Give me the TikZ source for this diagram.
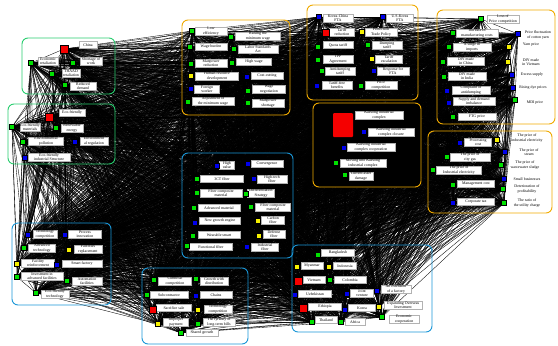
\documentclass[tikz,border=0pt]{standalone}
\usepackage{fontspec}
\setmainfont{Liberation Serif}
\pgfdeclarelayer{bg}
\pgfsetlayers{bg,main}
\definecolor{gsq}{RGB}{0,225,0}
\definecolor{bsq}{RGB}{0,0,235}
\definecolor{rsq}{RGB}{245,0,0}
\definecolor{ysq}{RGB}{245,240,0}
\definecolor{gbox}{RGB}{40,205,110}
\definecolor{obox}{RGB}{240,170,0}
\definecolor{bbox}{RGB}{25,150,215}
\tikzset{
  sq/.style={inner sep=0pt, minimum size=5pt, draw=black, line width=0.1pt},
  lab/.style={fill=white, draw=black!30, line width=0.2pt, inner sep=0.4pt, align=center, minimum height=7pt, font=\fontsize{3.9}{4.3}\selectfont},
  plab/.style={lab, draw=none, fill=none},
  gframe/.style={draw=gbox, line width=0.9pt, rounded corners=6pt},
  oframe/.style={draw=obox, line width=0.9pt, rounded corners=6pt},
  bframe/.style={draw=bbox, line width=0.9pt, rounded corners=6pt},
  edge/.style={draw=black, line width=0.35pt}
}
\newcommand{\ND}[6]{\node[lab,minimum width=#5pt] (#1l) at (#4) {#6}; \node[sq,fill=#2] (#1) at (#3) {};}
\newcommand{\NP}[5]{\node[plab] (#1l) at (#4) {#5}; \node[sq,fill=#2] (#1) at (#3) {};}
\def\allnodes{a1,a2,a3,a4,a5,b1,b2,b3,b4,b5,b6,c1,c2,c3,c4,c5,c6,c7,c8,c9,d1,d2,d3,d4,d5,d6,d7,d8,d9,d10,d11,d12,e1,e2,e3,e4,e5,e6,e7,e8,e9,e10,e11,e12,f1,f2,f3,f4,f5,g1,g2,g3,g4,g5,g6,g7,g8,g9,g10,g11,g12,g13,g14,h1,h2,h3,h4,h5,h6,h7,h8,h9,h10,h11,i1,i2,i3,i4,i5,i6,i7,i8,i9,i10,i11,i12,i13,i14,j1,j2,j3,j4,j5,j6,j7,j8,j9,k1,k2,k3,k4,k5,k6,k7,k8,k9,k10,k11,k12,k13,k14}
\begin{document}
\begin{tikzpicture}[x=1pt,y=-1pt]
\useasboundingbox (0,0) rectangle (558,346);
% group 1
\ND{a1}{rsq,minimum size=8pt}{64,49}{88,45}{18}{China}
\ND{a2}{gsq}{31,63}{48,61}{20}{Economic\\retaliation}
\ND{a3}{gsq}{73,63}{91,61}{22}{Shortage of\\work}
\ND{a4}{gsq}{52,74}{71,73}{18}{THAAD\\retaliation}
\ND{a5}{gsq}{65,85}{83,86}{26}{Reduced\\demand}
% group 2
\ND{b1}{rsq,minimum size=7.5pt}{49,117}{72,113}{26}{Eco-friendly}
\ND{b2}{gsq}{12,127}{30,127}{20}{Eco-friendly\\materials}
\ND{b3}{gsq}{56,128}{72,128}{22}{Renewable\\energy}
\ND{b4}{gsq}{23,142}{46,141}{35}{Environmental\\pollution}
\ND{b5}{bsq}{75,142}{94,141}{28}{Environment\\al regulation}
\ND{b6}{bsq}{25,158}{49,157}{42}{Eco-friendly\\industrial Structure}
% group 3
\ND{c1}{bsq}{28,235}{45,234}{24}{Technology\\competition}
\ND{c2}{bsq}{65,235}{85,234}{33}{Process\\innovation}
\ND{c3}{gsq}{24,248}{42,248}{27}{Advanced\\technology}
\ND{c4}{ysq}{69,250}{88,249}{28}{Facilities\\replacement}
\ND{c5}{ysq}{17,264}{38,263}{33}{Facility\\reinforcement}
\ND{c6}{bsq}{57,265}{82,264}{40}{Smart factory}
\ND{c7}{gsq}{17,277}{42,276}{42}{Investment in\\advanced facilities}
\ND{c8}{gsq}{67,281}{87,281}{30}{Automation\\facilities}
\ND{c9}{gsq}{36,293}{55,294}{28}{Eco-friendly\\technology}
% group 4
\ND{d1}{gsq}{192,31}{211,31}{32}{Low\\efficiency}
\ND{d2}{gsq}{231,37}{258,36}{45}{Raising the\\minimum wage}
\ND{d3}{gsq}{190,47}{211,47}{32}{Wage burden}
\ND{d4}{gsq}{234,49}{258,49}{40}{Labor Standards\\Act}
\ND{d5}{gsq}{191,64}{211,63}{32}{Manpower\\reduction}
\ND{d6}{gsq}{232,63}{254,62}{35}{High wage}
\ND{d7}{ysq}{191,76}{217,76}{43}{Human resource\\development}
\ND{d8}{bsq}{247,77}{267,76}{32}{Cost-cutting}
\ND{d9}{bsq}{191,89}{207,89}{25}{Foreign\\worker}
\ND{d10}{gsq}{248,91}{269,89}{33}{Wage\\negotiation}
\ND{d11}{gsq}{188,102}{213,101}{42}{Adjustment of\\the minimum wage}
\ND{d12}{gsq}{248,103}{268,103}{32}{Manpower\\shortage}
% group 5
\ND{e1}{bsq}{319,17}{338,18}{30}{Korea-China\\FTA}
\ND{e2}{bsq}{383,17}{400,18}{27}{U.S-Korea\\FTA}
\ND{e3}{rsq,minimum size=7pt}{326,33}{342,32}{25}{Tariff\\reduction}
\ND{e4}{ysq}{362,32}{381,32}{32}{Protection\\Trade Policy}
\ND{e5}{gsq}{318,47}{338,45}{30}{Quota tariff}
\ND{e6}{gsq}{368,45}{387,45}{30}{Dumping\\tariff}
\ND{e7}{gsq}{318,60}{338,59}{30}{TPP\\Agreement}
\ND{e8}{ysq}{372,59}{389,59}{27}{Tariff\\escalation}
\ND{e9}{gsq}{322,71}{340,71}{30}{Antidumping\\tariff}
\ND{e10}{bsq}{374,71}{393,71}{32}{Response for\\FTA}
\ND{e11}{bsq}{317,86}{337,85}{30}{Tariff-free\\benefits}
\ND{e12}{gsq}{361,86}{381,85}{32}{Price\\competition}
% group 6
\node[lab,minimum width=48pt] (f1l) at (379,115) {Kaesong industrial\\complex};
\node[sq,fill=rsq,draw=none,minimum width=20pt,minimum height=24pt,rounded corners=1pt] (f1) at (343,125) {};
\ND{f2}{bsq}{364,132}{391,132}{46}{Kaesong industrial\\complex closure}
\ND{f3}{bsq}{344,148}{371,147}{48}{Kaesong industrial\\complex cooperation}
\ND{f4}{gsq}{336,163}{363,163}{46}{Moving into Kaesong\\industrial complex}
\ND{f5}{gsq}{345,175}{361,176}{24}{Current asset\\damage}
% group 7
\ND{g1}{gsq}{481,19}{503,19}{32}{Loss of\\Price competition}
\ND{g2}{gsq}{453,33}{477,33}{42}{Increase in\\manufacturing costs}
\NP{g3}{bsq}{518,34}{538,35}{Price fluctuation\\of cotton yarn}
\ND{g4}{gsq}{449,47}{472,47}{38}{A surge in\\imports}
\NP{g5}{ysq}{509,47}{531,45}{Yarn price}
\ND{g6}{gsq}{443,62}{466,61}{37}{DIY made\\in China}
\NP{g7}{ysq}{508,62}{531,62}{DIY made\\in Vietnam}
\ND{g8}{gsq}{444,77}{467,76}{38}{DIY made\\in India}
\NP{g9}{bsq}{512,75}{532,75}{Excess supply}
\ND{g10}{bsq}{447,91}{471,90}{38}{Complaint of\\antidumping}
\NP{g11}{bsq}{513,88}{533,88}{Rising dye prices}
\ND{g12}{bsq}{449,103}{474,101}{42}{Supply and demand\\imbalance}
\NP{g13}{gsq}{515,100}{535,103}{MDI price}
\ND{g14}{gsq}{453,117}{477,117}{38}{FTG price}
% group 8
\ND{h1}{bsq}{460,143}{478,142}{27}{Processing\\cost}
\NP{h2}{ysq}{497,140}{527,138}{The price of\\industrial electricity}
\ND{h3}{gsq}{447,157}{470,157}{40}{The price of\\city gas}
\NP{h4}{bsq}{505,152}{529,152}{The price of\\steam}
\ND{h5}{gsq}{433,170}{459,170}{45}{The price of\\Industrial electricity}
\NP{h6}{gsq}{501,165}{525,165}{The price of\\wastewater sludge}
\NP{h7}{bsq}{504,179}{527,179}{Small businesses}
\ND{h8}{gsq}{453,185}{476,184}{37}{Management cost}
\NP{h9}{gsq}{503,189}{527,189}{Deterioration of\\profitability}
\ND{h10}{bsq}{453,203}{476,202}{37}{Corporate tax}
\NP{h11}{gsq}{504,203}{527,203}{The ratio of\\the utility charge}
% group 9
\ND{i1}{bsq}{217,166}{227,165}{15}{High\\value}
\ND{i2}{bsq}{248,164}{267,164}{32}{Convergence}
\ND{i3}{gsq}{197,179}{222,179}{43}{3CT fiber}
\ND{i4}{bsq}{254,179}{272,179}{30}{High-tech\\fiber}
\ND{i5}{gsq}{197,193}{221,193}{42}{Fiber composite\\material}
\ND{i6}{gsq}{246,194}{261,193}{27}{Differentiation\\Strategy}
\ND{i7}{gsq}{194,208}{219,208}{42}{Advanced material}
\ND{i8}{gsq}{251,207}{273,207}{35}{Fiber composite\\material}
\ND{i9}{bsq}{195,223}{220,221}{41}{New growth engine}
\ND{i10}{ysq}{258,221}{273,220}{23}{Carbon\\fiber}
\ND{i11}{gsq}{193,236}{219,235}{42}{Wearable smart}
\ND{i12}{ysq}{259,236}{274,234}{22}{Defense\\fiber}
\ND{i13}{gsq}{187,246}{211,247}{43}{Functional fiber}
\ND{i14}{bsq}{247,247}{265,247}{27}{Industrial\\fiber}
% group 10
\ND{j1}{gsq}{154,280}{175,281}{33}{Cutthroat\\competition}
\ND{j2}{gsq}{196,279}{214,281}{28}{Growth with\\distribution}
\ND{j3}{gsq}{147,295}{169,295}{38}{Subcontractor}
\ND{j4}{bsq}{196,296}{216,295}{32}{Chains}
\ND{j5}{rsq,minimum size=7pt}{153,310}{174,308}{35}{Sacrifice sale}
\ND{j6}{ysq}{198,310}{218,309}{28}{Technology\\competition}
\ND{j7}{ysq}{158,324}{176,322}{25}{Improper\\payment}
\ND{j8}{gsq}{198,324}{219,322}{32}{The tyranny of\\long-term bills}
\ND{j9}{gsq}{181,333}{202,333}{32}{Shared growth}
% group 11
\ND{k1}{gsq}{318,255}{338,253}{33}{Bangladesh}
\ND{k2}{ysq}{297,267}{312,266}{22}{Myanmar}
\ND{k3}{ysq}{329,267}{345,266}{23}{Indonesia}
\ND{k4}{rsq,minimum size=8pt}{298,281}{314,280}{22}{Vietnam}
\ND{k5}{gsq}{330,280}{350,280}{32}{Colombia}
\ND{k6}{bsq}{295,295}{315,294}{33}{Uzbekistan}
\ND{k7}{bsq}{347,294}{362,293}{23}{Joint\\venture}
\ND{k8}{bsq}{377,291}{396,289}{30}{An extension\\of a factory}
\ND{k9}{rsq,minimum size=8pt}{303,308}{325,307}{33}{Ethiopia}
\ND{k10}{bsq}{345,310}{362,308}{27}{Korea}
\ND{k11}{ysq}{379,307}{403,305}{38}{Expanding Overseas\\Investment}
\ND{k12}{gsq}{312,322}{326,320}{22}{Thailand}
\ND{k13}{gsq}{341,322}{355,322}{20}{Africa}
\ND{k14}{gsq}{382,317}{404,319}{30}{Economic\\cooperation}
% group frames
\draw[gframe] (22,38) rectangle (115,94);
\draw[gframe] (8,104) rectangle (115,164);
\draw[bframe] (12,223) rectangle (111,305);
\draw[oframe] (182,20) rectangle (290,115);
\draw[oframe] (307,5) rectangle (418,100);
\draw[oframe] (313,103) rectangle (421,187);
\draw[oframe] (437,10) rectangle (555,124);
\draw[oframe] (428,131) rectangle (552,213);
\draw[bframe] (182,153) rectangle (293,258);
\draw[bframe] (142,268) rectangle (248,344);
\draw[bframe] (292,245) rectangle (432,332);
% edges
\begin{pgfonlayer}{bg}
\fill[black, rounded corners=6pt] (313,103) rectangle (421,187);
\pgfmathsetseed{7}
\foreach \a [count=\i] in \allnodes {
  \foreach \b [count=\j] in \allnodes {
    \ifnum\j>\i
      \pgfmathrandominteger{\r}{1}{100}%
      \ifnum\r<78 \draw[edge] (\a.center) -- (\b.center);\fi
    \fi
  }
}
\end{pgfonlayer}
\end{tikzpicture}
\end{document}
